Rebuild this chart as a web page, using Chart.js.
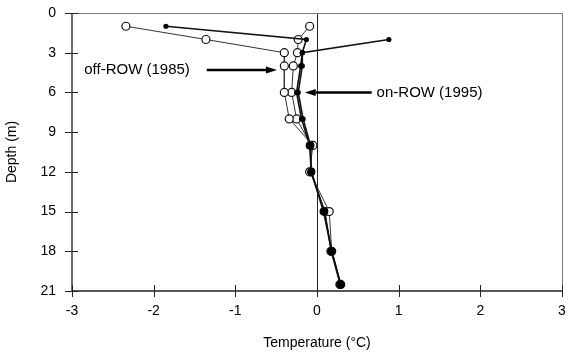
<!DOCTYPE html>
<html>
<head>
<meta charset="utf-8">
<script src="https://cdn.jsdelivr.net/npm/chart.js@4/dist/chart.umd.min.js"></script>
<style>
  html, body { margin: 0; padding: 0; background: #fff; }
  canvas { display: block; }
</style>
</head>
<body>
<canvas id="tempChart" width="570" height="354"></canvas>
<script>
// depth of each reading (m)
const depths = [1, 2, 3, 4, 6, 8, 10, 12, 15, 18, 20.5];
// temperatures (°C)
const offRowA = [-2.34, -1.36, -0.40, -0.40, -0.40, -0.34, -0.05, -0.09, 0.15, 0.18, 0.29];
const offRowB = [-0.09, -0.23, -0.24, -0.29, -0.31, -0.25, -0.07, -0.08, 0.10, 0.17, 0.28];
const onRowA = [-1.85, -0.13, -0.18, -0.20, -0.25, -0.19, -0.09, -0.07, 0.08, 0.18, 0.29];
const onRowB = [null, 0.88, -0.18, -0.18, -0.23, -0.17, -0.08, -0.07, 0.09, 0.18, 0.29];

const xTicks = [-3, -2, -1, 0, 1, 2, 3];
const yTicks = [0, 3, 6, 9, 12, 15, 18, 21];

const FONT = "'Liberation Sans', Arial, sans-serif";

function toPoints(temps) {
  let pts = [];
  temps.forEach((t, i) => {
    if (t !== null) pts.push({ x: t, y: depths[i] });
  });
  return pts;
}

function drawArrow(ctx, x1, y1, x2, y2) {
  const ang = Math.atan2(y2 - y1, x2 - x1);
  const len = 11, half = 3.5;
  ctx.beginPath();
  ctx.moveTo(x1, y1);
  ctx.lineTo(x2 - Math.cos(ang) * len, y2 - Math.sin(ang) * len);
  ctx.lineWidth = 2.5;
  ctx.stroke();
  ctx.beginPath();
  ctx.moveTo(x2, y2);
  ctx.lineTo(x2 - Math.cos(ang) * len - Math.sin(ang) * half, y2 - Math.sin(ang) * len + Math.cos(ang) * half);
  ctx.lineTo(x2 - Math.cos(ang) * len + Math.sin(ang) * half, y2 - Math.sin(ang) * len - Math.cos(ang) * half);
  ctx.closePath();
  ctx.fill();
}

// frame, crossing tick marks, arrows and labels
const overlay = {
  id: 'overlay',
  afterDatasetsDraw(chart) {
    const { ctx, chartArea: a, scales: { x, y } } = chart;
    ctx.save();
    ctx.strokeStyle = '#777';
    ctx.lineWidth = 1;
    ctx.beginPath();
    ctx.moveTo(a.left, a.top + 0.5);
    ctx.lineTo(a.right + 0.5, a.top + 0.5);
    ctx.lineTo(a.right + 0.5, a.bottom);
    ctx.stroke();

    ctx.strokeStyle = '#222';
    ctx.lineWidth = 1.3;
    ctx.beginPath();
    ctx.moveTo(a.left, a.top);
    ctx.lineTo(a.left, a.bottom);
    ctx.lineTo(a.right, a.bottom);
    ctx.stroke();

    ctx.lineWidth = 1;
    xTicks.forEach(v => {
      const px = Math.round(x.getPixelForValue(v)) + 0.5;
      ctx.beginPath();
      ctx.moveTo(px, a.bottom - 6);
      ctx.lineTo(px, a.bottom + 6);
      ctx.stroke();
    });
    yTicks.forEach(v => {
      const py = Math.round(y.getPixelForValue(v)) + 0.5;
      ctx.beginPath();
      ctx.moveTo(a.left - 7, py);
      ctx.lineTo(a.left + 6, py);
      ctx.stroke();
    });

    ctx.fillStyle = '#000';
    ctx.strokeStyle = '#000';
    ctx.font = '15px ' + FONT;
    ctx.textBaseline = 'middle';
    ctx.textAlign = 'left';
    ctx.fillText('off-ROW (1985)', x.getPixelForValue(-2.85), y.getPixelForValue(4.3));
    drawArrow(ctx, x.getPixelForValue(-1.35), y.getPixelForValue(4.3), x.getPixelForValue(-0.49), y.getPixelForValue(4.3));
    ctx.fillText('on-ROW (1995)', x.getPixelForValue(0.73), y.getPixelForValue(6));
    drawArrow(ctx, x.getPixelForValue(0.67), y.getPixelForValue(6), x.getPixelForValue(-0.15), y.getPixelForValue(6));
    ctx.restore();
  }
};

const filledRadius = c => (c.raw && c.raw.y >= 10 ? 4 : 2.6);

new Chart(document.getElementById('tempChart'), {
  type: 'scatter',
  data: {
    datasets: [
      {
        label: 'off-ROW (1985) a',
        data: toPoints(offRowA),
        showLine: true,
        borderColor: '#333',
        borderWidth: 1,
        pointBackgroundColor: '#fff',
        pointBorderColor: '#111',
        pointBorderWidth: 1.2,
        pointRadius: 4,
        order: 2
      },
      {
        label: 'off-ROW (1985) b',
        data: toPoints(offRowB),
        showLine: true,
        borderColor: '#333',
        borderWidth: 1,
        pointBackgroundColor: '#fff',
        pointBorderColor: '#111',
        pointBorderWidth: 1.2,
        pointRadius: 4,
        order: 2
      },
      {
        label: 'on-ROW (1995) a',
        data: toPoints(onRowA),
        showLine: true,
        borderColor: '#111',
        borderWidth: 1.6,
        pointBackgroundColor: '#000',
        pointBorderColor: '#000',
        pointBorderWidth: 0,
        pointRadius: filledRadius,
        order: 1
      },
      {
        label: 'on-ROW (1995) b',
        data: toPoints(onRowB),
        showLine: true,
        borderColor: '#111',
        borderWidth: 1.6,
        pointBackgroundColor: '#000',
        pointBorderColor: '#000',
        pointBorderWidth: 0,
        pointRadius: filledRadius,
        order: 1
      }
    ]
  },
  options: {
    responsive: false,
    animation: false,
    layout: { autoPadding: false, padding: { top: 13, right: 8, left: 0, bottom: 0 } },
    plugins: {
      legend: { display: false },
      tooltip: { enabled: false }
    },
    scales: {
      x: {
        type: 'linear',
        min: -3,
        max: 3,
        afterBuildTicks: s => { s.ticks = xTicks.map(v => ({ value: v })); },
        afterFit: s => { s.height = 63; },
        border: { display: false },
        grid: {
          drawTicks: true,
          tickLength: 9,
          tickColor: 'rgba(0,0,0,0)',
          color: c => (c.tick && c.tick.value === 0 ? '#222' : 'rgba(0,0,0,0)'),
          lineWidth: 1
        },
        ticks: { padding: 3, color: '#000', font: { family: FONT, size: 14 } },
        title: {
          display: true,
          text: 'Temperature (°C)',
          color: '#000',
          font: { family: FONT, size: 14 },
          padding: { top: 4, bottom: 2 }
        }
      },
      y: {
        type: 'linear',
        reverse: true,
        min: 0,
        max: 21,
        afterBuildTicks: s => { s.ticks = yTicks.map(v => ({ value: v })); },
        afterFit: s => { s.width = 72; },
        border: { display: false },
        grid: {
          drawOnChartArea: false,
          drawTicks: true,
          tickLength: 13,
          tickColor: 'rgba(0,0,0,0)',
          color: 'rgba(0,0,0,0)'
        },
        ticks: { padding: 3, color: '#000', font: { family: FONT, size: 14 } },
        title: {
          display: true,
          text: 'Depth (m)',
          color: '#000',
          font: { family: FONT, size: 14 },
          padding: { bottom: 4 }
        }
      }
    }
  },
  plugins: [overlay]
});
</script>
</body>
</html>
